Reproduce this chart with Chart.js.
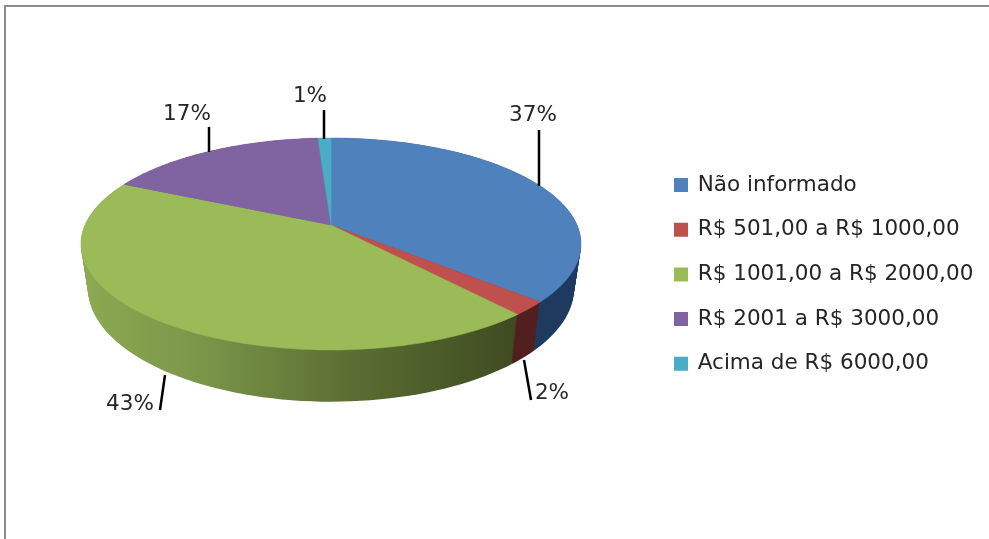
<!DOCTYPE html>
<html>
<head>
<meta charset="utf-8">
<title>Renda</title>
<script src="https://cdn.jsdelivr.net/npm/chart.js@4"></script>
<style>
body { margin: 0; background: #fff; overflow: hidden; }
#frame { position: absolute; left: 4px; top: 5px; right: 0; bottom: 0; border-top: 2px solid #8c8c8c; border-left: 2px solid #8c8c8c; }
canvas { position: absolute; left: 0; top: 0; }
</style>
</head>
<body>
<div id="frame"></div>
<canvas id="chartRenda" width="989" height="539"></canvas>
<script>
const categories = ['Não informado', 'R$ 501,00 a R$ 1000,00', 'R$ 1001,00 a R$ 2000,00', 'R$ 2001 a R$ 3000,00', 'Acima de R$ 6000,00'];
const values = [36.5, 2.1, 43.4, 17, 1];
const colors = ['#4F81BD', '#C0504D', '#9BBB59', '#8064A2', '#4BACC6'];
const sideStops = [
    [[0, '#1F3A5F'], [1, '#1F3A5F']],
    [[0, '#511F1D'], [1, '#511F1D']],
    [[0, '#8BAA52'], [0.28, '#7A9548'], [0.6, '#5C7034'], [1, '#3F4B20']],
    [[0, '#4D3C61'], [1, '#4D3C61']],
    [[0, '#2D6776'], [1, '#2D6776']]
];
// label text position, then leader line start and end
const labelPos = [[533, 115], [552, 393], [130, 404], [187, 114], [310, 96]];
const leaders = [
    [539, 130, 539, 186],
    [524, 360, 531, 400],
    [165, 375, 160, 410],
    [209, 127, 209, 152],
    [324, 110, 324, 139]
];

// perspective of the tilted disc
const cx = 331, cy = 225, ax = 246, by = 102.6, persp = -0.179;
const wallScaleX = 0.972, wallScaleY = 1.07, wallDrop = 43, wallLayers = 30;
const legendPadding = 23.2;

function project(angle, sx, sy, drop) {
    const u = Math.cos(angle), v = Math.sin(angle);
    const d = 1 + persp * v;
    return [cx + sx * ax * u / d, cy + drop + sy * by * v / d];
}

function arcPath(ctx, arc, sx, sy, drop) {
    const n = 80;
    for (let k = 0; k <= n; k++) {
        const p = project(arc.startAngle + (arc.endAngle - arc.startAngle) * k / n, sx, sy, drop);
        ctx.lineTo(p[0], p[1]);
    }
}

const pie3d = {
    id: 'pie3d',
    afterLayout(chart) {
        const lg = chart.legend;
        const w = lg.right - lg.left, h = lg.bottom - lg.top;
        lg.left = 675 - legendPadding;
        lg.right = lg.left + w;
        lg.top = 185 - legendPadding - 10.75;
        lg.bottom = lg.top + h;
    },
    beforeDatasetDraw(chart) {
        const ctx = chart.ctx;
        const arcs = chart.getDatasetMeta(0).data;
        ctx.save();
        // side wall, stacked from the bottom ring up so the outline follows the curve
        arcs.forEach((arc, i) => {
            const grad = ctx.createLinearGradient(85, 0, 515, 0);
            sideStops[i].forEach(s => grad.addColorStop(s[0], s[1]));
            ctx.fillStyle = grad;
            for (let l = wallLayers; l >= 0; l--) {
                const t = l / wallLayers;
                ctx.beginPath();
                ctx.moveTo(cx, cy + wallDrop * t);
                arcPath(ctx, arc, 1 + (wallScaleX - 1) * t, 1 + (wallScaleY - 1) * t, wallDrop * t);
                ctx.closePath();
                ctx.fill();
            }
        });
        arcs.forEach((arc, i) => {
            ctx.beginPath();
            ctx.moveTo(cx, cy);
            arcPath(ctx, arc, 1, 1, 0);
            ctx.closePath();
            ctx.fillStyle = colors[i];
            ctx.strokeStyle = colors[i];
            ctx.lineWidth = 0.5;
            ctx.fill();
            ctx.stroke();
        });
        ctx.restore();
        return false;
    },
    afterDraw(chart) {
        const ctx = chart.ctx;
        ctx.save();
        ctx.strokeStyle = '#000';
        ctx.lineWidth = 2.5;
        leaders.forEach(l => {
            ctx.beginPath();
            ctx.moveTo(l[0], l[1]);
            ctx.lineTo(l[2], l[3]);
            ctx.stroke();
        });
        ctx.fillStyle = '#262626';
        ctx.font = '21.5px "DejaVu Sans"';
        ctx.textAlign = 'center';
        ctx.textBaseline = 'middle';
        values.forEach((v, i) => ctx.fillText(Math.round(v) + '%', labelPos[i][0], labelPos[i][1]));
        ctx.restore();
    }
};

const chartRenda = new Chart(document.getElementById('chartRenda').getContext('2d'), {
    type: 'pie',
    data: {
        labels: categories,
        datasets: [{
            data: values,
            backgroundColor: colors,
            borderColor: colors,
            borderWidth: 2
        }]
    },
    options: {
        responsive: false,
        animation: false,
        plugins: {
            tooltip: { enabled: false },
            legend: {
                position: 'right',
                align: 'start',
                labels: {
                    boxWidth: 12,
                    boxHeight: 12,
                    padding: legendPadding,
                    color: '#262626',
                    font: { family: '"DejaVu Sans"', size: 21.5 }
                }
            }
        }
    },
    plugins: [pie3d]
});
</script>
</body>
</html>
